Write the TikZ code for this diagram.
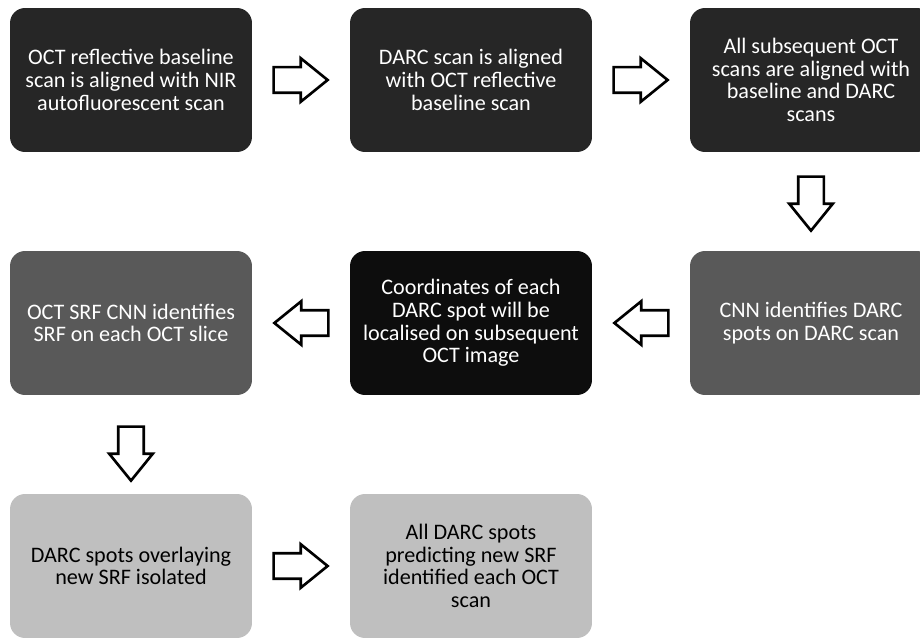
\documentclass[tikz,border=0pt]{standalone}
\usepackage{fontspec}
\setmainfont{Carlito}
\usetikzlibrary{shapes.arrows,calc}
\definecolor{boxdark}{HTML}{262626}
\definecolor{boxmid}{HTML}{595959}
\definecolor{boxblack}{HTML}{0D0D0D}
\definecolor{boxlight}{HTML}{BFBFBF}
\begin{document}
\begin{tikzpicture}[x=0.02cm,y=-0.02cm,
  stage/.style={rectangle,rounded corners=0.3cm,minimum width=4.84cm,minimum height=2.88cm,
    align=center,text=white,font=\fontsize{12.6}{12.9}\selectfont},
  blockarrow/.style={single arrow,draw=black,fill=white,line width=1.5pt,inner sep=0.23cm,
    minimum height=1.08cm,single arrow head extend=0.18cm,
    single arrow tip angle=78,anchor=tail}]
\useasboundingbox (0,0) rectangle (920,638);
\begin{scope}
\clip (0,0) rectangle (920,638);

\node[stage,fill=boxdark] (scan1) at (131,80) {OCT reflective baseline\\scan is aligned with NIR\\autofluorescent scan};
\node[stage,fill=boxdark] (scan2) at (471,80) {DARC scan is aligned\\with OCT reflective\\baseline scan};
\node[stage,fill=boxdark] (scan3) at (811,80) {All subsequent OCT\\scans are aligned with\\baseline and DARC\\scans};

\node[stage,fill=boxmid] (cnn) at (811,323) {CNN identifies DARC\\spots on DARC scan};
\node[stage,fill=boxblack] (coord) at (471,323) {Coordinates of each\\DARC spot will be\\localised on subsequent\\OCT image};
\node[stage,fill=boxmid] (srf) at (131,323) {OCT SRF CNN identifies\\SRF on each OCT slice};

\node[stage,fill=boxlight,text=black] (iso) at (131,566) {DARC spots overlaying\\new SRF isolated};
\node[stage,fill=boxlight,text=black] (pred) at (471,566) {All DARC spots\\predicting new SRF\\identified each OCT\\scan};

\node[blockarrow] (a1) at ($(scan1.east)+(20,0)$) {};
\node[blockarrow] (a2) at ($(scan2.east)+(20,0)$) {};
\node[blockarrow,shape border rotate=270] (a3) at ($(scan3.south)+(0,23)$) {};
\node[blockarrow,shape border rotate=180] (a4) at ($(cnn.west)+(-20,0)$) {};
\node[blockarrow,shape border rotate=180] (a5) at ($(coord.west)+(-20,0)$) {};
\node[blockarrow,shape border rotate=270] (a6) at ($(srf.south)+(0,30)$) {};
\node[blockarrow] (a7) at ($(iso.east)+(20,0)$) {};
\end{scope}
\end{tikzpicture}
\end{document}
